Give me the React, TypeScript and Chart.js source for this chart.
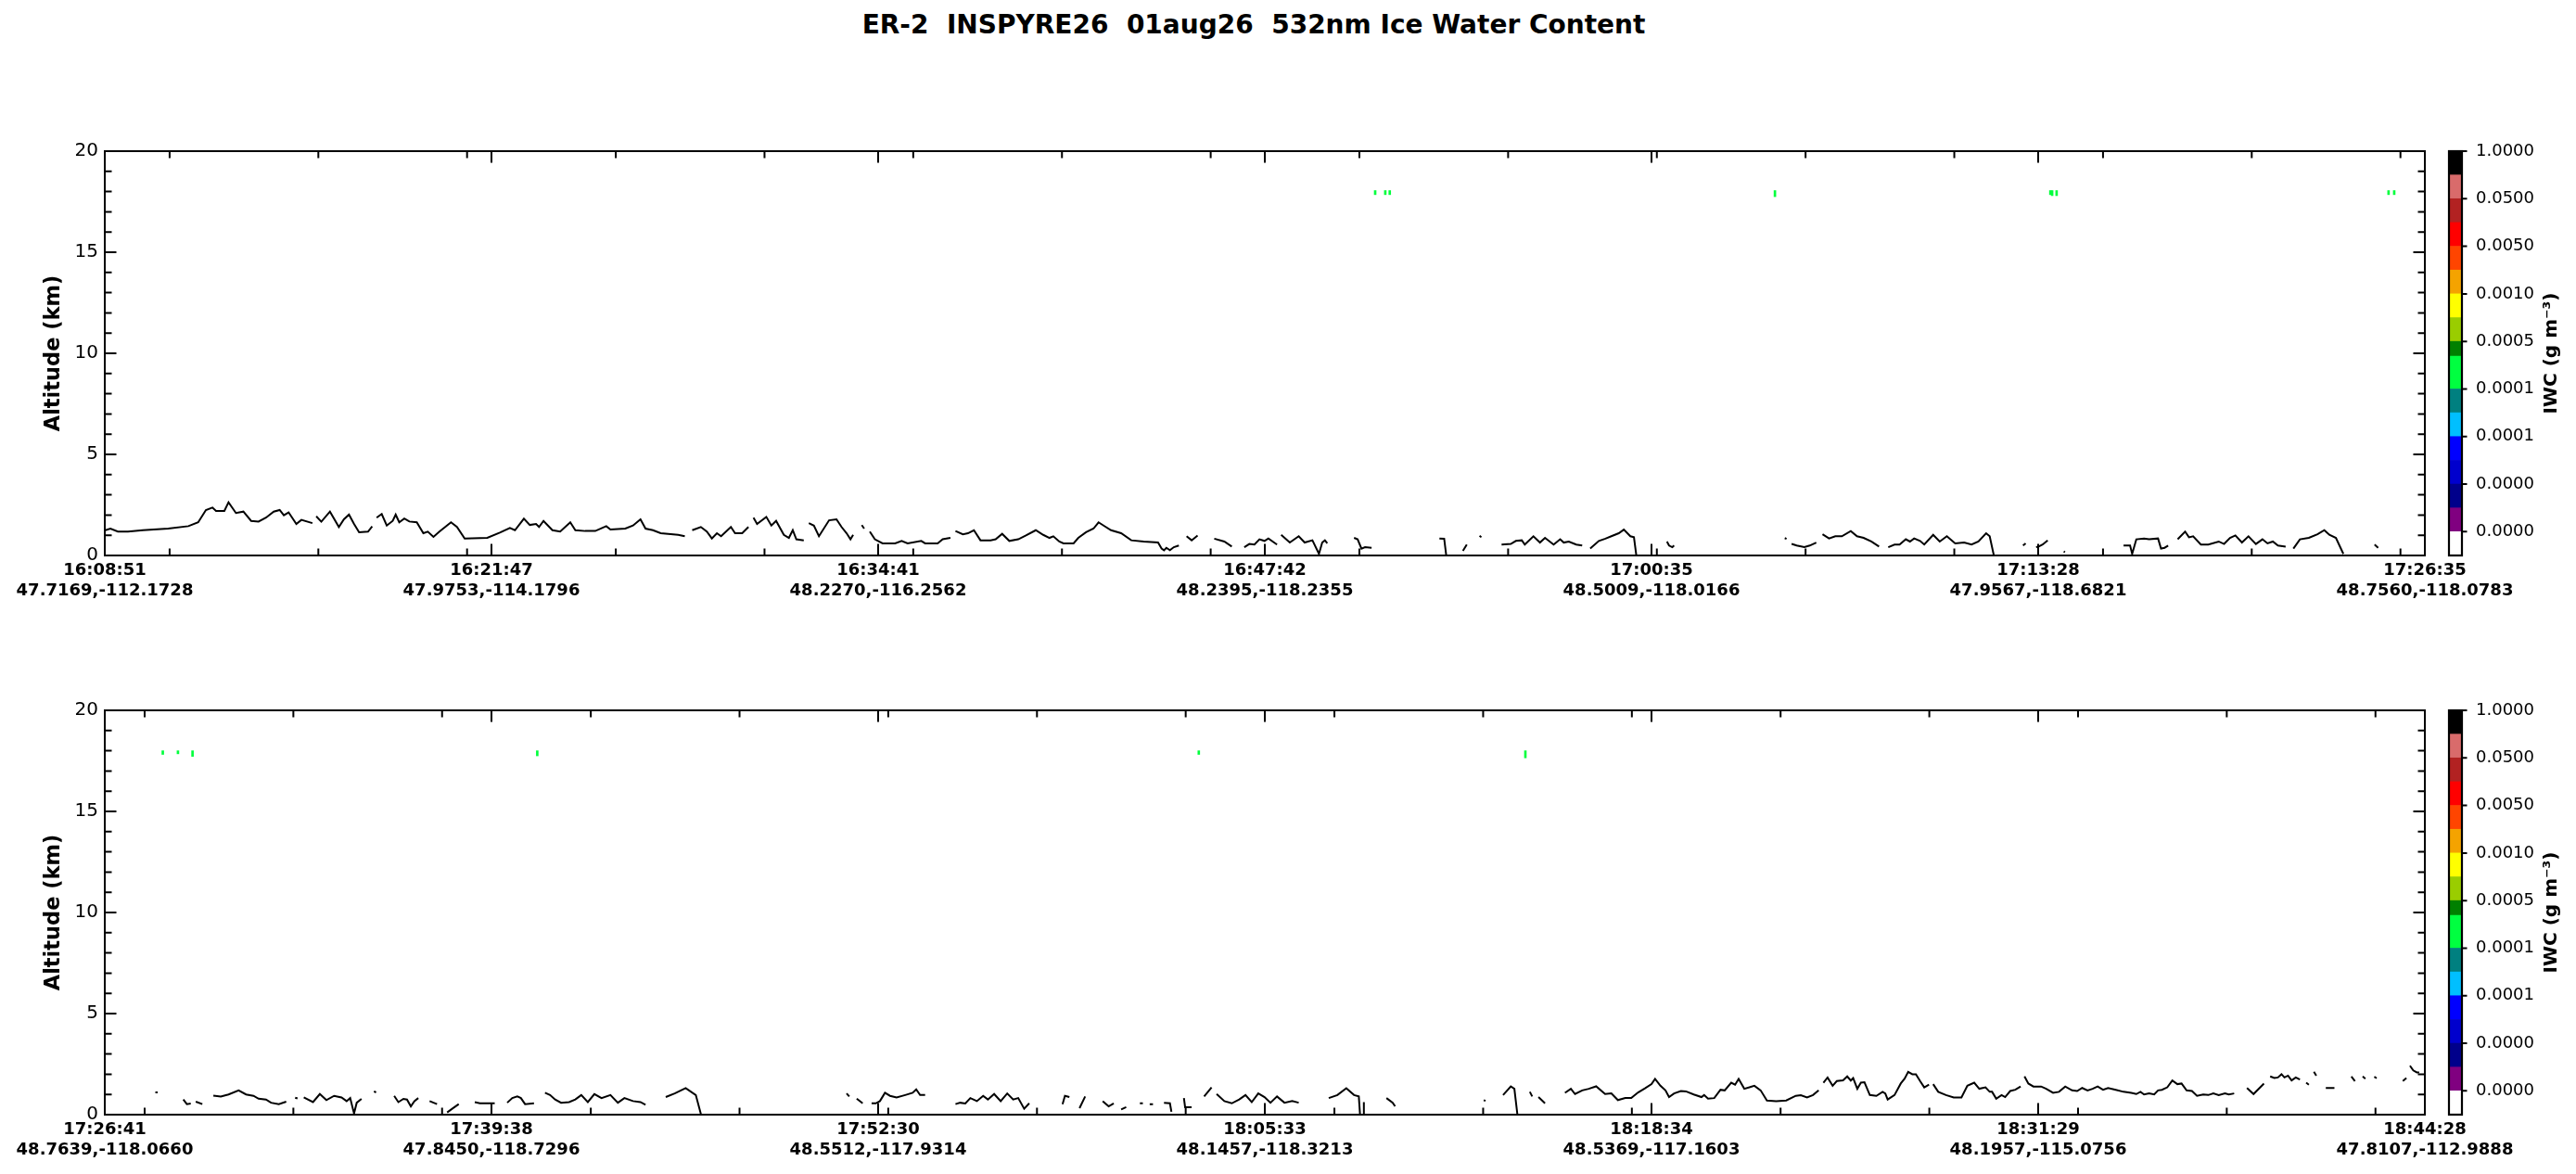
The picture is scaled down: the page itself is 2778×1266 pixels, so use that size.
import React, { useEffect, useRef } from 'react';
import { Chart, registerables } from 'chart.js';

Chart.register(...registerables);

const FONT = "'DejaVu Sans', 'Noto Sans', sans-serif";
Chart.defaults.font.family = FONT;

// ---------- data ----------
const TITLE = 'ER-2  INSPYRE26  01aug26  532nm Ice Water Content';

const X_MAJOR = [0, 1300, 2600, 3900, 5200, 6500, 7800];
const TOP_MINOR = [218, 718, 1218, 1718, 2218, 2718, 3218, 3718, 4218, 4718, 5218, 5718, 6218, 6718, 7218, 7718];
const BOT_MINOR = [134, 634, 1134, 1634, 2134, 2634, 3134, 3634, 4134, 4634, 5134, 5634, 6134, 6634, 7134, 7634];
const Y_MAJOR = [0, 5, 10, 15, 20];
const Y_MINOR = [1, 2, 3, 4, 6, 7, 8, 9, 11, 12, 13, 14, 16, 17, 18, 19];

const TOP_TIMES = ['16:08:51', '16:21:47', '16:34:41', '16:47:42', '17:00:35', '17:13:28', '17:26:35'];
const TOP_COORDS = ['47.7169,-112.1728', '47.9753,-114.1796', '48.2270,-116.2562', '48.2395,-118.2355', '48.5009,-118.0166', '47.9567,-118.6821', '48.7560,-118.0783'];
const BOT_TIMES = ['17:26:41', '17:39:38', '17:52:30', '18:05:33', '18:18:34', '18:31:29', '18:44:28'];
const BOT_COORDS = ['48.7639,-118.0660', '47.8450,-118.7296', '48.5512,-117.9314', '48.1457,-118.3213', '48.5369,-117.1603', '48.1957,-115.0756', '47.8107,-112.9888'];

// surface / lowest-signal altitude (km) vs profile number; null = no data
const TOP_SURFACE: [number, number | null][] = [
  [2, 1.25], [19, 1.33], [44, 1.18], [78, 1.18], [128, 1.25], [213, 1.33], [281, 1.45], [314, 1.64], [340, 2.25], [362, 2.37], [374, 2.2], [402, 2.2], [416, 2.63], [441, 2.1], [466, 2.17], [492, 1.71], [517, 1.68], [542, 1.87], [568, 2.17], [588, 2.25], [602, 1.99], [618, 2.13], [644, 1.56], [661, 1.76], [698, 1.6],
  [704, null],
  [711, 1.94], [728, 1.67], [757, 2.17], [787, 1.41], [804, 1.79], [821, 2.02], [838, 1.56], [855, 1.15], [885, 1.18], [899, 1.44],
  [906, null],
  [914, 1.87], [931, 2.05], [948, 1.48], [968, 1.71], [978, 2.02], [990, 1.64], [1007, 1.83], [1024, 1.68], [1049, 1.64], [1071, 1.1], [1086, 1.18], [1105, 0.92], [1125, 1.18], [1164, 1.64], [1184, 1.41], [1210, 0.84], [1286, 0.87], [1328, 1.13], [1362, 1.36], [1379, 1.25], [1409, 1.82], [1429, 1.51], [1450, 1.56], [1460, 1.41], [1475, 1.71], [1505, 1.25], [1531, 1.18], [1565, 1.64], [1582, 1.25], [1615, 1.21], [1649, 1.21], [1686, 1.45], [1700, 1.28], [1750, 1.33], [1776, 1.48], [1801, 1.79], [1818, 1.33], [1843, 1.25], [1869, 1.1], [1928, 1.02], [1950, 0.95],
  [1962, null],
  [1975, 1.25], [2004, 1.41], [2024, 1.18], [2041, 0.84], [2058, 1.1], [2072, 0.95], [2105, 1.41], [2119, 1.1], [2143, 1.1], [2164, 1.41],
  [2172, null],
  [2181, 1.87], [2193, 1.56], [2224, 1.91], [2241, 1.48], [2257, 1.71], [2283, 1.02], [2300, 0.87], [2313, 1.25], [2325, 0.8], [2350, 0.75],
  [2358, null],
  [2367, 1.6], [2384, 1.48], [2401, 0.95], [2435, 1.74], [2460, 1.79], [2477, 1.41], [2494, 1.1], [2507, 0.8], [2516, 1.02],
  [2530, null],
  [2545, 1.5], [2553, 1.33],
  [2563, null],
  [2572, 1.18], [2589, 0.8], [2615, 0.6], [2657, 0.6], [2679, 0.72], [2699, 0.6], [2745, 0.72], [2758, 0.6], [2800, 0.6], [2817, 0.8], [2843, 0.87],
  [2851, null],
  [2860, 1.21], [2885, 1.05], [2902, 1.1], [2922, 1.25], [2944, 0.75], [2978, 0.75], [2995, 0.8], [3017, 1.07], [3041, 0.72], [3071, 0.8], [3097, 0.99], [3130, 1.25], [3155, 1.02], [3176, 0.87], [3189, 0.95], [3209, 0.69], [3223, 0.6], [3257, 0.6], [3273, 0.87], [3299, 1.15], [3324, 1.33], [3341, 1.64], [3358, 1.48], [3383, 1.25], [3417, 1.1], [3451, 0.75], [3493, 0.69], [3541, 0.64], [3553, 0.34], [3561, 0.26], [3569, 0.38], [3581, 0.26], [3594, 0.41], [3611, 0.49],
  [3624, null],
  [3637, 0.95], [3654, 0.75], [3674, 0.99],
  [3700, null],
  [3730, 0.83], [3764, 0.69], [3789, 0.44],
  [3810, null],
  [3831, 0.41], [3848, 0.57], [3865, 0.54], [3882, 0.8], [3899, 0.72], [3912, 0.84], [3941, 0.54],
  [3948, null],
  [3955, 1.02], [3984, 0.64], [4014, 0.95], [4034, 0.64], [4060, 0.75], [4082, 0.08], [4093, 0.64], [4102, 0.75], [4110, 0.6],
  [4150, null],
  [4200, 0.87], [4212, 0.8], [4225, 0.34], [4237, 0.41], [4259, 0.38],
  [4400, null],
  [4487, 0.84], [4503, 0.83], [4510, 0.0],
  [4540, null],
  [4566, 0.23], [4579, 0.54],
  [4600, null],
  [4622, 0.98], [4628, 0.9],
  [4660, null],
  [4696, 0.54], [4727, 0.57], [4744, 0.72], [4764, 0.75], [4774, 0.54], [4803, 0.95], [4825, 0.64], [4842, 0.87], [4871, 0.54], [4893, 0.8], [4905, 0.64], [4922, 0.69], [4947, 0.54], [4967, 0.49],
  [4980, null],
  [4994, 0.34], [5023, 0.72], [5045, 0.83], [5065, 0.95], [5090, 1.1], [5107, 1.28], [5129, 0.95], [5141, 0.9], [5149, 0.0],
  [5200, null],
  [5252, 0.69], [5259, 0.49], [5270, 0.41], [5276, 0.49],
  [5400, null],
  [5648, 0.86], [5654, 0.82],
  [5662, null],
  [5671, 0.57], [5688, 0.49], [5714, 0.41], [5732, 0.49], [5754, 0.64],
  [5765, null],
  [5775, 1.05], [5797, 0.84], [5818, 0.95], [5840, 0.95], [5870, 1.21], [5891, 0.95], [5913, 0.87], [5939, 0.69], [5965, 0.44],
  [5980, null],
  [5996, 0.41], [6017, 0.54], [6034, 0.54], [6055, 0.8], [6069, 0.69], [6083, 0.84], [6103, 0.72], [6117, 0.54], [6147, 1.02], [6169, 0.69], [6193, 0.95], [6221, 0.6], [6251, 0.64], [6276, 0.54], [6299, 0.69], [6325, 1.1], [6337, 0.95], [6351, 0.0],
  [6400, null],
  [6449, 0.49], [6458, 0.6],
  [6475, null],
  [6493, 0.41], [6502, 0.44], [6515, 0.54], [6532, 0.75],
  [6560, null],
  [6586, 0.2], [6590, 0.16],
  [6700, null],
  [6787, 0.49], [6809, 0.49], [6816, 0.08], [6830, 0.8], [6856, 0.84], [6873, 0.8], [6903, 0.84], [6913, 0.34], [6925, 0.38], [6937, 0.49],
  [6950, null],
  [6969, 0.8], [6994, 1.18], [7007, 0.9], [7021, 0.95], [7047, 0.54], [7072, 0.54], [7107, 0.69], [7125, 0.57], [7145, 0.87], [7163, 0.99], [7185, 0.64], [7207, 0.95], [7232, 0.57], [7254, 0.8], [7271, 0.6], [7289, 0.69], [7306, 0.49], [7332, 0.44],
  [7345, null],
  [7358, 0.34], [7380, 0.8], [7410, 0.87], [7439, 1.05], [7462, 1.25], [7479, 1.02], [7501, 0.87], [7526, 0.08],
  [7580, null],
  [7631, 0.54], [7643, 0.38],
];

const BOT_SURFACE: [number, number | null][] = [
  [170, 1.1], [178, 1.1],
  [220, null],
  [264, 0.75], [276, 0.52], [289, 0.55],
  [298, null],
  [306, 0.64], [328, 0.52],
  [345, null],
  [365, 0.94], [390, 0.9], [416, 1.0], [450, 1.2], [475, 1.0], [500, 0.93], [517, 0.79], [542, 0.75], [559, 0.59], [585, 0.52], [610, 0.64],
  [628, null],
  [640, 0.84], [648, 0.8],
  [658, null],
  [669, 0.85], [700, 0.62], [723, 1.02], [745, 0.72], [771, 0.93], [796, 0.85], [813, 0.67], [825, 0.82], [838, 0.06], [847, 0.59], [863, 0.78],
  [880, null],
  [905, 1.15], [912, 1.1],
  [940, null],
  [973, 0.93], [987, 0.62], [1004, 0.78], [1016, 0.75], [1029, 0.41], [1041, 0.67], [1054, 0.82],
  [1070, null],
  [1092, 0.67], [1117, 0.52],
  [1135, null],
  [1151, 0.11], [1168, 0.29], [1190, 0.52],
  [1220, null],
  [1244, 0.62], [1261, 0.56], [1311, 0.56],
  [1330, null],
  [1353, 0.59], [1370, 0.82], [1387, 0.9], [1399, 0.82], [1413, 0.52], [1443, 0.56],
  [1460, null],
  [1480, 1.08], [1497, 0.97], [1514, 0.75], [1534, 0.59], [1561, 0.62], [1582, 0.75], [1602, 0.97], [1624, 0.62], [1646, 1.02], [1670, 0.82], [1700, 0.97], [1725, 0.59], [1747, 0.82], [1776, 0.67], [1801, 0.62], [1818, 0.49],
  [1850, null],
  [1886, 0.87], [1916, 1.05], [1953, 1.31], [1987, 0.97], [2004, 0.03],
  [2200, null],
  [2494, 1.05], [2503, 0.9],
  [2515, null],
  [2528, 0.79], [2548, 0.56],
  [2562, null],
  [2578, 0.56], [2592, 0.56], [2606, 0.67], [2623, 1.08], [2640, 0.93], [2662, 0.85], [2691, 0.97], [2716, 1.08], [2728, 1.25], [2741, 0.97], [2758, 0.97],
  [2775, null],
  [2860, 0.52], [2876, 0.59], [2893, 0.55], [2910, 0.82], [2932, 0.67], [2953, 0.93], [2969, 0.75], [2990, 1.02], [3012, 0.67], [3034, 1.05], [3054, 0.75], [3071, 0.82], [3091, 0.29], [3108, 0.56],
  [3160, null],
  [3220, 0.52], [3228, 0.93], [3243, 0.87],
  [3260, null],
  [3277, 0.32], [3296, 0.9],
  [3330, null],
  [3355, 0.67], [3375, 0.41], [3392, 0.56],
  [3405, null],
  [3417, 0.26], [3434, 0.37],
  [3460, null],
  [3480, 0.56], [3490, 0.56],
  [3500, null],
  [3513, 0.52], [3524, 0.52],
  [3540, null],
  [3561, 0.59], [3581, 0.56], [3586, 0.14],
  [3610, null],
  [3628, 0.82], [3632, 0.37], [3654, 0.37],
  [3680, null],
  [3696, 0.9], [3721, 1.35],
  [3730, null],
  [3738, 1.02], [3764, 0.67], [3789, 0.56], [3814, 0.75], [3835, 0.97], [3856, 0.62], [3878, 1.05], [3899, 0.87], [3919, 0.59], [3941, 0.9], [3966, 0.59], [3992, 0.67], [4014, 0.59],
  [4060, null],
  [4115, 0.82], [4144, 0.97], [4174, 1.31], [4200, 0.97], [4216, 0.9], [4220, 0.03],
  [4226, null],
  [4231, 0.03], [4233, 0.62],
  [4280, null],
  [4309, 0.82], [4330, 0.59], [4338, 0.41],
  [4500, null],
  [4636, 0.72], [4642, 0.68],
  [4680, null],
  [4701, 0.97], [4727, 1.4], [4739, 1.28], [4749, 0.03],
  [4770, null],
  [4791, 1.13], [4799, 0.9],
  [4810, null],
  [4820, 0.87], [4842, 0.56],
  [4880, null],
  [4909, 1.08], [4929, 1.28], [4943, 1.02], [4967, 1.2], [4989, 1.28], [5014, 1.4], [5044, 1.02], [5065, 1.05], [5087, 0.72], [5112, 0.82], [5132, 0.82], [5155, 1.1], [5178, 1.3], [5200, 1.51], [5212, 1.77], [5230, 1.43], [5247, 1.2], [5259, 0.87], [5276, 1.05], [5299, 1.17], [5316, 1.15], [5342, 1.0], [5368, 0.87], [5377, 0.97], [5390, 0.79], [5411, 0.82], [5432, 1.23], [5446, 1.2], [5468, 1.58], [5481, 1.48], [5493, 1.77], [5512, 1.28], [5529, 1.35], [5546, 1.43], [5567, 1.2], [5588, 0.7], [5619, 0.67], [5653, 0.7], [5685, 0.93], [5702, 0.96], [5723, 0.85], [5743, 0.97], [5762, 1.2],
  [5770, null],
  [5778, 1.58], [5792, 1.84], [5809, 1.43], [5823, 1.66], [5844, 1.7], [5858, 1.89], [5870, 1.69], [5878, 1.81], [5892, 1.28], [5904, 1.58], [5916, 1.6], [5934, 0.97], [5956, 0.93], [5977, 1.13], [5986, 1.05], [5994, 0.75], [6017, 0.97], [6038, 1.54], [6051, 1.78], [6063, 2.12], [6077, 2.0], [6089, 2.0], [6103, 1.66], [6117, 1.35], [6133, 1.48],
  [6140, null],
  [6147, 1.51], [6164, 1.13], [6190, 0.97], [6216, 0.85], [6242, 0.85], [6262, 1.43], [6285, 1.58], [6302, 1.28], [6323, 1.35], [6337, 1.13], [6345, 1.13], [6359, 0.79], [6377, 0.97], [6389, 0.87], [6406, 1.17], [6423, 1.23], [6441, 1.39],
  [6447, null],
  [6454, 1.89], [6467, 1.54], [6484, 1.39], [6510, 1.39], [6527, 1.28], [6550, 1.08], [6570, 1.13], [6591, 1.39], [6614, 1.2], [6631, 1.17], [6648, 1.32], [6666, 1.2], [6683, 1.28], [6700, 1.39], [6718, 1.23], [6735, 1.32], [6761, 1.23], [6787, 1.13], [6813, 1.08], [6830, 1.02], [6844, 1.13], [6856, 1.0], [6873, 1.05], [6890, 1.0], [6903, 1.2], [6916, 1.23], [6934, 1.35], [6951, 1.69], [6968, 1.51], [6982, 1.54], [6999, 1.2], [7017, 1.17], [7034, 0.93], [7055, 1.0], [7072, 0.97], [7089, 1.05], [7107, 0.97], [7128, 1.05], [7141, 1.0], [7159, 1.05],
  [7180, null],
  [7202, 1.32], [7224, 1.02], [7259, 1.54],
  [7270, null],
  [7280, 1.89], [7294, 1.81], [7306, 1.84], [7318, 2.0], [7328, 1.84], [7340, 1.93], [7352, 1.69], [7366, 1.84], [7380, 1.74],
  [7392, null],
  [7401, 1.58], [7410, 1.48],
  [7420, null],
  [7427, 2.12], [7435, 1.93],
  [7455, null],
  [7467, 1.32], [7496, 1.32],
  [7530, null],
  [7553, 1.89], [7565, 1.66],
  [7580, null],
  [7591, 1.89], [7600, 1.78],
  [7620, null],
  [7630, 1.87], [7638, 1.8],
  [7700, null],
  [7726, 1.66], [7738, 1.81],
  [7745, null],
  [7750, 2.42], [7761, 2.19], [7773, 2.09], [7781, 2.09],
];

// thin IWC returns near 18 km (profile number, bottom km, top km)
const TOP_IWC_X = [4271, 4305, 4320, 5615, 6541, 6547, 6562, 7678, 7697];
const TOP_IWC_LO = [17.85, 17.85, 17.85, 17.75, 17.85, 17.8, 17.8, 17.85, 17.85];
const TOP_IWC_HI = [18.05, 18.05, 18.05, 18.05, 18.05, 18.05, 18.05, 18.05, 18.05];
const BOT_IWC_X = [195, 246, 295, 1454, 3678, 4776];
const BOT_IWC_LO = [17.82, 17.85, 17.72, 17.75, 17.82, 17.65];
const BOT_IWC_HI = [18.0, 18.0, 18.0, 18.0, 18.0, 18.0];

// colour bar (bottom -> top)
const CB_COLORS = ['#ffffff', '#800080', '#00008b', '#0000cd', '#0000ff', '#00bfff', '#008080', '#00ff40', '#008000', '#9acd00', '#ffff00', '#f4a300', '#ff4500', '#ff0000', '#b22222', '#d96b6b', '#000000'];
const CB_SIZES = [1, 1, 1, 1, 1, 1, 1, 1.38, 0.62, 1, 1, 1, 1, 1, 1, 1, 1];
const CB_TICKS = [1, 3, 5, 7, 9, 11, 13, 15, 17];
const CB_LABELS = ['0.0000', '0.0000', '0.0001', '0.0001', '0.0005', '0.0010', '0.0050', '0.0500', '1.0000'];
const CB_TITLE = 'IWC (g m\u207B\u00B3)';

const IWC_GREEN = '#00ff3c';

// ---------- plugins ----------
function makeFramePlugin(minor: number[]) {
  return {
    id: 'frameTicks',
    afterDatasetsDraw(chart: any) {
      const { ctx, chartArea: a } = chart;
      const xs = chart.scales.x;
      const ys = chart.scales.y;
      ctx.save();
      ctx.strokeStyle = '#000';
      ctx.lineWidth = 2;
      ctx.beginPath();
      const seg = (x1: number, y1: number, x2: number, y2: number) => { ctx.moveTo(x1, y1); ctx.lineTo(x2, y2); };
      const MAJ = 12.5, MIN = 7.5;
      for (const v of X_MAJOR) { const p = xs.getPixelForValue(v); seg(p, a.bottom, p, a.bottom - MAJ); seg(p, a.top, p, a.top + MAJ); }
      for (const v of minor) { const p = xs.getPixelForValue(v); seg(p, a.bottom, p, a.bottom - MIN); seg(p, a.top, p, a.top + MIN); }
      for (const v of Y_MAJOR) { const p = ys.getPixelForValue(v); seg(a.left, p, a.left + MAJ, p); seg(a.right, p, a.right - MAJ, p); }
      for (const v of Y_MINOR) { const p = ys.getPixelForValue(v); seg(a.left, p, a.left + MIN, p); seg(a.right, p, a.right - MIN, p); }
      ctx.stroke();
      ctx.lineWidth = 2;
      ctx.strokeRect(a.left, a.top, a.right - a.left, a.bottom - a.top);
      ctx.restore();
    },
  };
}

const cbPlugin = {
  id: 'cbFrame',
  afterDatasetsDraw(chart: any) {
    const { ctx, chartArea: a } = chart;
    const ys = chart.scales.y;
    ctx.save();
    ctx.strokeStyle = '#000';
    ctx.lineWidth = 2.2;
    ctx.strokeRect(a.left, a.top, a.right - a.left, a.bottom - a.top);
    ctx.beginPath();
    for (const v of CB_TICKS) { const p = ys.getPixelForValue(v); ctx.moveTo(a.right, p); ctx.lineTo(a.right + 5.5, p); }
    ctx.lineWidth = 2;
    ctx.stroke();
    ctx.translate(152, (a.top + a.bottom) / 2);
    ctx.rotate(-Math.PI / 2);
    ctx.fillStyle = '#000';
    ctx.font = `bold 20px ${FONT}`;
    ctx.textAlign = 'center';
    ctx.textBaseline = 'middle';
    ctx.fillText(CB_TITLE, 0, 0);
    ctx.restore();
  },
};

// ---------- components ----------
type PanelProps = {
  top: number;
  surface: [number, number | null][];
  iwcX: number[]; iwcLo: number[]; iwcHi: number[];
  times: string[]; coords: string[]; minor: number[];
};

function Panel({ top, surface, iwcX, iwcLo, iwcHi, times, coords, minor }: PanelProps) {
  const ref = useRef<HTMLCanvasElement>(null);
  useEffect(() => {
    const chart = new Chart(ref.current as HTMLCanvasElement, {
      type: 'line',
      data: {
        datasets: [
          {
            type: 'bar',
            data: iwcX.map((x, i) => ({ x, y: [iwcLo[i], iwcHi[i]] })) as any,
            backgroundColor: IWC_GREEN,
            borderWidth: 0,
            barThickness: 2,
            order: 2,
          } as any,
          {
            type: 'line',
            data: surface.map(([x, y]) => ({ x, y })) as any,
            borderColor: '#000',
            borderWidth: 2,
            pointRadius: 0,
            spanGaps: false,
            tension: 0,
            order: 1,
          } as any,
        ],
      },
      options: {
        responsive: false,
        animation: false,
        devicePixelRatio: 1,
        events: [],
        layout: { padding: { left: 0, right: 163, top: 33, bottom: 11 } },
        plugins: { legend: { display: false }, tooltip: { enabled: false } },
        scales: {
          x: {
            type: 'linear',
            min: 0,
            max: 7800,
            offset: false,
            grid: { display: false, drawTicks: false },
            border: { display: false },
            afterBuildTicks: (s: any) => { s.ticks = X_MAJOR.map((v) => ({ value: v })); },
            afterFit: (s: any) => { s.height = 60; },
            ticks: {
              autoSkip: false,
              maxRotation: 0,
              minRotation: 0,
              padding: 6,
              color: '#000',
              font: { family: FONT, size: 18, weight: 'bold', lineHeight: 1.2 },
              callback: (_v: any, i: number) => [times[i], coords[i]],
            },
          },
          y: {
            type: 'linear',
            min: 0,
            max: 20,
            grid: { display: false, drawTicks: false },
            border: { display: false },
            afterFit: (s: any) => { s.width = 113; },
            ticks: { stepSize: 5, padding: 7, color: '#000', font: { family: FONT, size: 20 } },
            title: {
              display: true,
              text: 'Altitude (km)',
              color: '#000',
              font: { family: FONT, size: 22.5, weight: 'bold', lineHeight: 1.2 },
              padding: { top: 44.5, bottom: 0 },
            },
          },
        },
      } as any,
      plugins: [makeFramePlugin(minor)],
    });
    return () => chart.destroy();
  }, []);
  return (
    <canvas
      ref={ref}
      width={2778}
      height={540}
      style={{ position: 'absolute', left: 0, top, width: 2778, height: 540 }}
    />
  );
}

function ColorBar({ top }: { top: number }) {
  const ref = useRef<HTMLCanvasElement>(null);
  useEffect(() => {
    const chart = new Chart(ref.current as HTMLCanvasElement, {
      type: 'bar',
      data: {
        labels: ['IWC'],
        datasets: CB_COLORS.map((c, i) => ({
          data: [CB_SIZES[i]],
          backgroundColor: c,
          borderWidth: 0,
          barPercentage: 1,
          categoryPercentage: 1,
        })),
      },
      options: {
        responsive: false,
        animation: false,
        devicePixelRatio: 1,
        events: [],
        layout: { padding: { left: 41, right: 0, top: 33, bottom: 71 } },
        plugins: { legend: { display: false }, tooltip: { enabled: false } },
        scales: {
          x: { display: false, stacked: true },
          y: {
            position: 'right',
            stacked: true,
            min: 0,
            max: 17,
            grid: { display: false, drawTicks: false },
            border: { display: false },
            afterBuildTicks: (s: any) => { s.ticks = CB_TICKS.map((v) => ({ value: v })); },
            afterFit: (s: any) => { s.width = 123; },
            ticks: {
              padding: 15,
              color: '#000',
              font: { family: FONT, size: 18 },
              callback: (_v: any, i: number) => CB_LABELS[i],
            },
          },
        },
      } as any,
      plugins: [cbPlugin],
    });
    return () => chart.destroy();
  }, []);
  return (
    <canvas
      ref={ref}
      width={178}
      height={540}
      style={{ position: 'absolute', left: 2600, top, width: 178, height: 540 }}
    />
  );
}

export default function App() {
  return (
    <div style={{ position: 'absolute', left: 0, top: 0, width: 2778, height: 1266, background: '#fff', overflow: 'hidden' }}>
      <div
        style={{
          position: 'absolute', left: 0, top: 10.5, width: 2704, textAlign: 'center',
          fontFamily: FONT, fontWeight: 'bold', fontSize: 28, lineHeight: '32px', whiteSpace: 'pre', color: '#000',
        }}
      >
        {TITLE}
      </div>
      <Panel top={130} surface={TOP_SURFACE} iwcX={TOP_IWC_X} iwcLo={TOP_IWC_LO} iwcHi={TOP_IWC_HI} times={TOP_TIMES} coords={TOP_COORDS} minor={TOP_MINOR} />
      <Panel top={733} surface={BOT_SURFACE} iwcX={BOT_IWC_X} iwcLo={BOT_IWC_LO} iwcHi={BOT_IWC_HI} times={BOT_TIMES} coords={BOT_COORDS} minor={BOT_MINOR} />
      <ColorBar top={130} />
      <ColorBar top={733} />
    </div>
  );
}
